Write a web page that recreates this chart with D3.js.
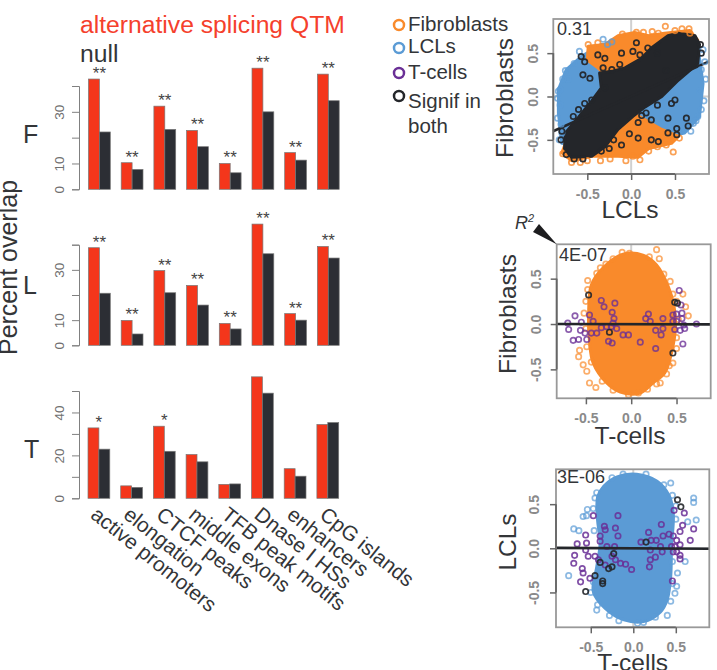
<!DOCTYPE html>
<html><head><meta charset="utf-8">
<script src="https://cdn.jsdelivr.net/npm/d3@7"></script>
<style>html,body{margin:0;padding:0;background:#fff}svg{display:block}text{font-family:"Liberation Sans",Arial,sans-serif}</style>
</head><body><svg id="c" width="717" height="670"></svg>
<script>
const categories=["active promoters","elongation","CTCF peaks","middle exons","TFB peak motifs","Dnase I HSs","enhancers","CpG islands"];
const qtmF=[42.7,10.3,32.2,22.8,10,46.9,14.2,44.6];
const nullF=[22.2,7.7,23.2,16.5,6.4,30,11.3,34.3];
const starsF=["**","**","**","**","**","**","**","**"];
const qtmL=[38.8,9.9,29.7,23.8,8.7,48.2,12.6,39.3];
const nullL=[20.7,4.5,20.9,16,6.5,36.4,10,34.7];
const starsL=["**","**","**","**","**","**","**","**"];
const qtmT=[32.8,5.8,33.6,20.4,6.5,56.6,13.8,34.4];
const nullT=[22.9,5.1,21.9,17,6.7,49,10.3,35.3];
const starsT=["*","","*","","","","",""];
const barTicksFL=[0,10,20,30,40], barLabelsFL=[0,10,30];
const barTicksT=[0,10,20,30,40,50], barLabelsT=[0,20,40];
const scatterTicks=[-0.5,0,0.5];

// panel 1: LCLs (x) against Fibroblasts (y)
const p1BlueCloud=[[-.83,.08],[-.74,.31],[-.57,.46],[-.34,.6],[-.07,.6],[.76,.58],[.82,.15],[.78,-.23],[.61,-.42],[.23,-.5],[-.53,-.58],[-.79,-.54],[-.83,-.19]];
const p1OrangeCloud=[[-.49,.58],[-.3,.6],[-.15,.7],[.04,.74],[.2,.7],[.38,.73],[.67,.76],[.76,.65],[.61,.46],[.04,-.2],[.35,-.38],[.54,-.46],[.46,-.54],[.2,-.6],[.08,-.7],[-.15,-.69],[-.45,-.69],[-.68,-.74],[-.79,-.65],[-.68,-.35],[-.15,.12],[-.38,.33],[-.5,.42]];
const p1BlackCloud=[[-.76,-.6],[-.75,-.42],[-.60,-.24],[-.45,-.05],[-.34,.1],[-.36,.27],[-.22,.29],[-.07,.33],[.12,.44],[.23,.56],[.42,.70],[.54,.73],[.73,.70],[.78,.60],[.76,.38],[.54,.19],[.35,0],[.16,-.12],[.02,-.23],[-.15,-.38],[-.30,-.58],[-.45,-.69],[-.68,-.70]];
const p1BlueRings=[[-.32,.66],[-.27,.60],[-.59,.52],[-.75,.30],[-.81,.08],[-.83,.06],[-.81,-.10],[-.79,-.42],[.82,.54],[.80,.31],[.78,.06],[.76,-.23],[.71,-.31],[.63,-.27],[-.65,.38],[-.72,.2],[-.78,.2],[-.84,-.02],[-.84,-.25],[-.8,-.32],[-.22,.63],[.84,.4],[.85,.2],[.83,-.05],[.8,-.15],[.74,-.28],[.68,-.4],[-.82,-.5]];
const p1OrangeRings=[[.39,.81],[.66,.78],[.31,.73],[.06,.74],[-.49,.60],[-.38,.62],[.48,-.64],[.10,-.73],[-.06,-.74],[.02,-.69],[-.68,-.76],[-.50,-.74],[-.78,-.66],[.67,.73],[-.1,.72],[.14,.74],[.24,.75],[.5,.76],[.58,.78],[-.58,-.76],[-.35,-.74],[-.24,-.72],[.2,-.63],[.3,-.58],[.4,-.56],[.55,-.48]];
const p1BlackRings=[[-.57,.46],[-.53,.40],[-.38,.48],[-.30,.44],[-.55,.25],[-.47,.21],[-.32,.33],[-.22,.31],[-.13,.37],[-.11,.50],[.02,.52],[.06,.62],[.19,.56],[-.30,.10],[-.45,-.04],[-.53,-.08],[-.60,-.15],[-.66,-.23],[.17,-.19],[.23,-.27],[.42,-.25],[.50,-.04],[.46,-.08],[.63,-.25],[.65,-.34],[.52,-.37],[.42,-.42],[.52,-.44],[.31,-.52],[.23,-.50],[.08,-.48],[-.02,-.43],[-.11,-.56],[-.34,-.63],[-.74,-.67],[-.79,-.40],[-.2,-.5],[-.25,-.6],[.08,-.3],[.12,-.22],[.3,-.1],[.4,.3],[.3,.5],[.1,.48],[.8,.5],[.79,.6],[-.8,-.5],[-.55,-.72],[-.65,-.72]];
const p1Fit=[[-.89,-.40],[.89,.405]];

// panel 2: T-cells (x) against Fibroblasts (y)
const p2OrangeCloud=[[-.09,.77],[.13,.76],[.28,.65],[.41,.41],[.47,.21],[.49,-.01],[.44,-.34],[.37,-.54],[.24,-.65],[.1,-.76],[-.12,-.75],[-.27,-.65],[-.42,-.43],[-.46,-.19],[-.47,.1],[-.44,.43],[-.31,.62]];
const p2OrangeRings=[[.28,.82],[.31,.72],[-.1,.79],[-.38,.56],[.46,.33],[.57,.33],[.6,.19],[.63,.09],[-.57,-.29],[-.58,-.36],[-.53,-.45],[-.49,-.52],[-.46,-.65],[-.39,-.7],[.32,-.65],[.08,-.76],[.5,-.27],[.46,-.43],[-.5,.25],[-.52,.12],[-.48,.38],[-.2,.72],[-.28,.66],[-.02,.78],[.2,.74],[.36,.55],[.43,.47],[.5,.25],[.52,.05],[.5,-.15],[.42,-.46],[.39,-.55],[.28,-.66],[.18,-.72],[-.03,-.78],[-.2,-.73],[-.32,-.63],[-.44,-.42],[-.49,-.25],[-.5,-.05],[-.48,.48],[-.34,.62]];
const p2PurpleRings=[[-.70,.01],[-.69,-.06],[-.62,.09],[-.64,-.18],[-.58,-.17],[-.56,-.07],[-.55,.02],[-.51,-.10],[-.49,-.17],[-.44,-.10],[-.38,-.10],[-.46,.10],[-.42,.03],[-.33,-.04],[-.27,-.03],[-.22,-.03],[-.16,-.05],[-.25,-.19],[-.21,-.21],[-.33,.26],[-.30,.19],[-.18,.23],[-.21,.13],[-.19,.06],[-.20,.01],[-.09,-.12],[-.03,-.12],[.10,-.20],[.27,-.27],[.16,.06],[.19,.11],[.21,.03],[.27,-.07],[.33,-.12],[.35,.06],[.35,-.05],[.46,.03],[.46,.10],[.50,.11],[.56,.12],[.56,.06],[.50,.03],[.48,-.06],[.54,-.07],[.59,-.05],[.58,-.01],[.72,0],[.53,.37],[.57,-.22],[.55,.21]];
const p2BlackRings=[[-.47,.32],[-.24,-.09],[.46,-.32],[.48,.24],[.51,.23]];
const p2Fit=[[-.82,.0],[.88,-.005]];

// panel 3: T-cells (x) against LCLs (y)
const p3BlueCloud=[[-.19,.81],[.04,.84],[.28,.76],[.42,.6],[.47,.40],[.45,.02],[.44,-.32],[.40,-.58],[.32,-.72],[.12,-.83],[-.11,-.81],[-.33,-.68],[-.47,-.49],[-.43,-.21],[-.39,.06],[-.42,.32],[-.42,.58],[-.35,.7]];
const p3BlueRings=[[-.76,-.31],[-.70,.22],[-.64,.20],[-.59,.36],[-.55,.37],[-.54,.44],[-.43,.63],[-.45,.57],[.44,.74],[.71,.57],[.71,.52],[.74,.32],[.64,.30],[.61,-.15],[.52,-.28],[.51,-.43],[.49,-.51],[.40,-.76],[-.42,-.64],[-.43,-.70],[.12,-.84],[-.17,-.82],[-.25,.8],[-.12,.84],[.15,.84],[.36,.72],[.46,.6],[.5,.48],[.5,.33],[.46,-.15],[.46,-.4],[.44,-.6],[.26,-.78],[.05,-.85],[-.28,-.76],[-.5,-.5],[-.47,-.38],[-.46,.2],[-.47,.45]];
const p3PurpleRings=[[-.47,.37],[-.18,.37],[-.56,.15],[-.66,.05],[-.55,.06],[-.69,-.08],[-.70,-.17],[-.60,-.23],[-.59,-.28],[-.62,-.38],[-.51,-.34],[-.56,-.02],[-.53,-.09],[-.45,-.09],[-.41,-.13],[-.34,.25],[-.33,.21],[-.21,.23],[-.18,.14],[-.39,.14],[-.39,.08],[-.31,.02],[-.22,.02],[-.25,-.09],[-.21,-.13],[-.33,-.19],[-.15,-.17],[-.09,-.18],[-.02,-.24],[.09,.07],[.18,.18],[.21,.09],[.27,.09],[.20,-.02],[.26,-.10],[.20,-.13],[.19,-.21],[.33,.27],[.35,.14],[.42,.16],[.32,.02],[.34,-.04],[.47,.14],[.51,.09],[.45,.02],[.49,.02],[.55,.04],[.47,-.04],[.51,-.04],[.55,-.08],[.55,-.12],[.48,.43],[.60,.40],[.58,.26],[.55,.19],[.71,.22],[.67,.09],[.46,-.37]];
const p3BlackRings=[[.52,.55],[.56,.47],[.15,.07],[-.39,-.16],[-.29,-.23],[-.25,-.21],[-.45,-.31],[-.36,-.37],[-.36,-.40],[-.56,-.49],[-.23,-.06]];
const p3Fit=[[-.9,.005],[.89,-.005]];

const legendItems=["Fibroblasts","LCLs","T-cells","Signif in"];

const RED="#f4361b",DARK="#2c2e34",ORANGE="#f98a2b",BLUE="#5b9bd5",PURPLE="#6a2f96",BLACK="#24262a",INK="#333538",TICK="#8a8a8a";
const svg=d3.select("#c");

// ---- bar panels
const x0=d3.scaleBand().domain(categories).range([88.5,339.2]).paddingInner(1/3).paddingOuter(0);
const x1=d3.scaleBand().domain(["qtm","null"]).range([0,x0.bandwidth()]);
function barPanel(o){
  const y=d3.scaleLinear().domain([0,o.tickTop]).range([o.base,o.top]);
  const g=svg.append("g").attr("transform",`translate(${o.dx},0)`);
  categories.forEach((c,i)=>{
    [["qtm",o.q[i],RED],["null",o.n[i],DARK]].forEach(([k,v,col])=>{
      g.append("rect").attr("x",x0(c)+x1(k)).attr("width",x1.bandwidth())
       .attr("y",y(v)).attr("height",y(0)-y(v))
       .attr("fill",col).attr("stroke","#777").attr("stroke-width",.7);
    });
    if(o.s[i]) g.append("text").attr("x",x0(c)+x0.bandwidth()/2).attr("y",y(o.q[i]))
       .attr("text-anchor","middle").attr("font-size",17).attr("fill","#444").text(o.s[i]);
  });
  const ax=d3.axisLeft(y).tickValues(o.ticks).tickSize(7).tickFormat(d=>o.labels.includes(d)?d:"");
  const a=svg.append("g").attr("transform","translate(79,0)").call(ax);
  a.selectAll("path,line").attr("stroke","#808080").attr("stroke-width",1);
  a.selectAll("text").attr("font-size",13.5).attr("fill","#707070").attr("text-anchor","middle")
    .attr("dy",0).attr("x",0).attr("y",-15).attr("transform","rotate(-90)");
  svg.append("text").attr("x",o.lx).attr("y",o.ly).attr("font-size",25).attr("fill",INK).text(o.letter);
}
barPanel({q:qtmF,n:nullF,s:starsF,base:189.3,top:86,tickTop:40,ticks:barTicksFL,labels:barLabelsFL,dx:0,letter:"F",lx:23,ly:143});
barPanel({q:qtmL,n:nullL,s:starsL,base:345.3,top:244.7,tickTop:40,ticks:barTicksFL,labels:barLabelsFL,dx:0,letter:"L",lx:23,ly:294});
barPanel({q:qtmT,n:nullT,s:starsT,base:498.3,top:391,tickTop:50,ticks:barTicksT,labels:barLabelsT,dx:-.5,letter:"T",lx:24,ly:458});

categories.forEach(c=>{
  svg.append("text").attr("transform",`translate(${x0(c)+1},517) rotate(38.7)`)
    .attr("font-size",20.8).attr("fill",INK).text(c);
});
svg.append("text").attr("transform","translate(17,267.5) rotate(-90)").attr("text-anchor","middle")
  .attr("font-size",25).attr("fill",INK).text("Percent overlap");
svg.append("text").attr("x",80).attr("y",33).attr("font-size",24.7).attr("fill","#f5402c").text("alternative splicing QTM");
svg.append("text").attr("x",80).attr("y",62).attr("font-size",24.7).attr("fill",INK).text("null");

// ---- scatter panels
const tickFmt=d=>d3.format(".1f")(d).replace("\u2212","-");
function scatter(o){
  const x=d3.scaleLinear().domain(o.xd).range([o.l,o.r]);
  const y=d3.scaleLinear().domain(o.yd).range([o.b,o.t]);
  const g=svg.append("g");
  g.append("line").attr("x1",x(0)).attr("x2",x(0)).attr("y1",o.t).attr("y2",o.b).attr("stroke","#d0d0d0").attr("stroke-width",2);
  g.append("line").attr("x1",o.l).attr("x2",o.r).attr("y1",y(0)).attr("y2",y(0)).attr("stroke","#d0d0d0").attr("stroke-width",2);
  const smooth=d3.line().x(d=>x(d[0])).y(d=>y(d[1])).curve(d3.curveCatmullRomClosed.alpha(.5));
  const straight=d3.line().x(d=>x(d[0])).y(d=>y(d[1])).curve(d3.curveLinearClosed);
  o.clouds.forEach(([pts,col,lin])=>g.append("path").attr("d",(lin?straight:smooth)(pts)).attr("fill",col).attr("stroke",col).attr("stroke-width",3).attr("stroke-linejoin","round"));
  const fit=()=>g.append("line").attr("x1",x(o.fit[0][0])).attr("y1",y(o.fit[0][1])).attr("x2",x(o.fit[1][0])).attr("y2",y(o.fit[1][1])).attr("stroke",BLACK).attr("stroke-width",2.7);
  if(o.fitUnder) fit();
  o.rings.forEach(([pts,col,op])=>{
    g.selectAll(null).data(pts).join("circle").attr("cx",d=>x(d[0])).attr("cy",d=>y(d[1])).attr("r",2.7)
     .attr("fill","none").attr("stroke",col).attr("stroke-width",1.7).attr("stroke-opacity",op);
  });
  if(!o.fitUnder) fit();
  svg.append("rect").attr("x",o.l).attr("y",o.t).attr("width",o.r-o.l).attr("height",o.b-o.t)
    .attr("fill","none").attr("stroke","#999").attr("stroke-width",1.8);
  const ax=svg.append("g").attr("transform",`translate(0,${o.b})`).call(d3.axisBottom(x).tickValues(scatterTicks).tickSize(6).tickPadding(9).tickFormat(tickFmt));
  const ay=svg.append("g").attr("transform",`translate(${o.l},0)`).call(d3.axisLeft(y).tickValues(scatterTicks).tickSize(6).tickFormat(tickFmt));
  [ax,ay].forEach(a=>{a.select(".domain").remove();a.selectAll("line").attr("stroke","#666").attr("stroke-width",1.5);
    a.selectAll("text").attr("font-size",14).attr("font-weight","bold").attr("fill",TICK);});
  ay.selectAll("text").attr("transform","rotate(-90)").attr("text-anchor","middle").attr("dy",0).attr("x",0).attr("y",o.yLab-o.l);
  svg.append("line").attr("x1",x(-.5)).attr("x2",x(.5)).attr("y1",o.b).attr("y2",o.b).attr("stroke","#666").attr("stroke-width",1.8);
  svg.append("line").attr("y1",y(-.5)).attr("y2",y(.5)).attr("x1",o.l).attr("x2",o.l).attr("stroke","#666").attr("stroke-width",1.8);
  svg.append("text").attr("x",o.rx).attr("y",o.ry).attr("font-size",18).attr("fill",INK).text(o.r2);
  svg.append("text").attr("x",o.xtx).attr("y",o.xty).attr("text-anchor","middle").attr("font-size",24.5).attr("fill",INK).text(o.xt);
  svg.append("text").attr("transform",`translate(${o.ytx},${o.yty}) rotate(-90)`).attr("text-anchor","middle").attr("font-size",24.5).attr("fill",INK).text(o.yt);
}
scatter({l:553.3,r:709,t:19,b:174,xd:[-.888,.888],yd:[-.894,.894],yLab:538,
  clouds:[[p1BlueCloud,BLUE,true],[p1OrangeCloud,ORANGE,true],[p1BlackCloud,BLACK,true]],fit:p1Fit,fitUnder:true,
  rings:[[p1BlueRings,BLUE,.75],[p1OrangeRings,ORANGE,.8],[p1BlackRings,BLACK,.95]],
  r2:"0.31",rx:557,ry:35,xt:"LCLs",xtx:630,xty:218,yt:"Fibroblasts",ytx:513,yty:98});
scatter({l:556.7,r:710.7,t:244.3,b:398.3,xd:[-.822,.877],yd:[-.819,.879],yLab:541,
  clouds:[[p2OrangeCloud,ORANGE]],fit:p2Fit,fitUnder:false,
  rings:[[p2OrangeRings,ORANGE,.7],[p2PurpleRings,PURPLE,.78],[p2BlackRings,BLACK,.9]],
  r2:"4E-07",rx:559,ry:261,xt:"T-cells",xtx:630,xty:444,yt:"Fibroblasts",ytx:516,yty:314});
scatter({l:556,r:709.3,t:469.3,b:627.3,xd:[-.909,.894],yd:[-.895,.895],yLab:539,
  clouds:[[p3BlueCloud,BLUE]],fit:p3Fit,fitUnder:false,
  rings:[[p3BlueRings,BLUE,.7],[p3PurpleRings,PURPLE,.85],[p3BlackRings,BLACK,.9]],
  r2:"3E-06",rx:557,ry:483,xt:"T-cells",xtx:632.7,xty:671,yt:"LCLs",ytx:516,yty:542});

// ---- R² marker
svg.append("text").attr("x",515).attr("y",229).attr("font-size",18).attr("font-style","italic").attr("fill",INK).text("R").append("tspan").attr("dy",-7).attr("font-size",11).text("2");
svg.append("path").attr("d",d3.line()([[556.7,244.3],[533,232],[539,224]])+"Z").attr("fill","#1d1d1f");

// ---- legend
const legendColors=[ORANGE,BLUE,PURPLE,BLACK], legendY=[25,48,73,96], legendTextY=[31,53,79,108];
legendItems.forEach((t,i)=>{
  svg.append("circle").attr("cx",399).attr("cy",legendY[i]).attr("r",5).attr("fill","none").attr("stroke",legendColors[i]).attr("stroke-width",2.5);
  svg.append("text").attr("x",408).attr("y",legendTextY[i]).attr("font-size",20.5).attr("fill",INK).text(t);
});
svg.append("text").attr("x",408).attr("y",133).attr("font-size",20.5).attr("fill",INK).text("both");
</script></body></html>
